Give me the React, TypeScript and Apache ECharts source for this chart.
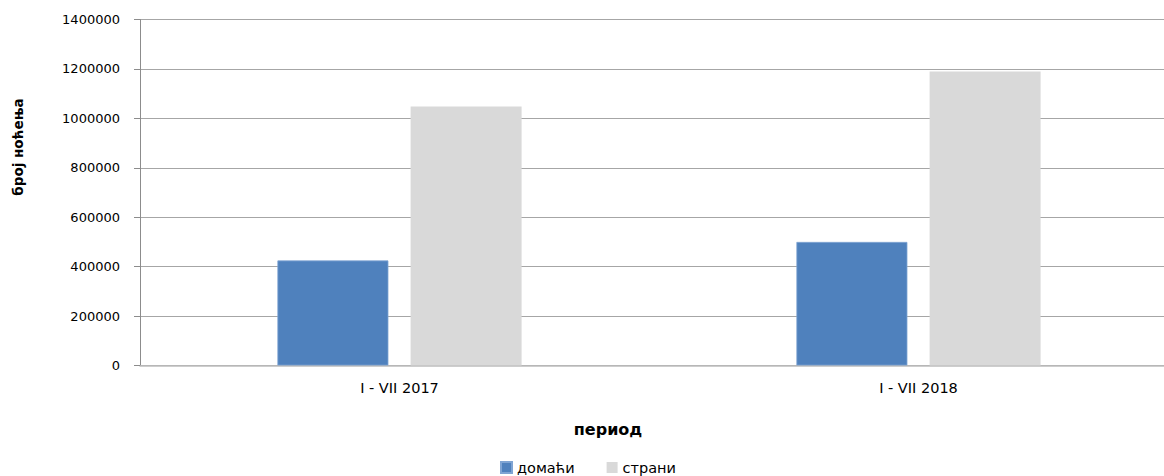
import React, { useEffect, useRef } from "react";
import * as echarts from "echarts";

const categories = ["I - VII 2017", "I - VII 2018"];
const domaci = [425000, 500000];
const strani = [1048000, 1190000];
const seriesNames = ["домаћи", "страни"];
const yTitle = "број ноћења";
const xTitle = "период";

export default function App() {
  const ref = useRef<HTMLDivElement>(null);
  useEffect(() => {
    if (!ref.current) return;
    const chart = echarts.init(ref.current, undefined, { renderer: "svg" });
    const font = "'DejaVu Sans', sans-serif";
    chart.setOption({
      animation: false,
      backgroundColor: "#ffffff",
      grid: { left: 140, right: 0, top: 19.5, bottom: 110.5, containLabel: false },
      legend: {
        left: 500,
        top: 460,
        padding: 0,
        icon: "rect",
        itemWidth: 11,
        itemHeight: 11,
        itemGap: 32,
        textStyle: { fontFamily: font, fontSize: 14.5, color: "#000" },
        data: seriesNames,
      },
      xAxis: {
        type: "category",
        data: categories,
        axisLine: { show: true, lineStyle: { color: "#bdbdbd", width: 1.5 } },
        axisTick: { show: false },
        axisLabel: { margin: 15, fontFamily: font, fontSize: 14.5, color: "#000" },
      },
      yAxis: {
        type: "value",
        min: 0,
        max: 1400000,
        interval: 200000,
        axisLine: { show: true, lineStyle: { color: "#8c8c8c", width: 1 } },
        axisTick: { show: true, length: 6, lineStyle: { color: "#8c8c8c" } },
        splitLine: { show: true, lineStyle: { color: "#a6a6a6", width: 1 } },
        axisLabel: {
          margin: 20,
          fontFamily: font,
          fontSize: 13,
          color: "#000",
          formatter: (v: number) => String(v),
        },
      },
      graphic: [
        {
          type: "text",
          x: 18,
          y: 147,
          rotation: Math.PI / 2,
          style: {
            text: yTitle,
            fontFamily: font,
            fontSize: 13.5,
            fontWeight: "bold",
            fill: "#000",
            align: "center",
            verticalAlign: "middle",
          },
        },
        {
          type: "text",
          x: 608,
          y: 429,
          style: {
            text: xTitle,
            fontFamily: font,
            fontSize: 16,
            fontWeight: "bold",
            fill: "#000",
            align: "center",
            verticalAlign: "middle",
          },
        },
      ],
      series: [
        {
          name: seriesNames[0],
          type: "bar",
          data: domaci,
          barWidth: 111,
          barGap: "20%",
          itemStyle: { color: "#4f81bd", borderColor: "#7fa4d3", borderWidth: 0.8 },
        },
        {
          name: seriesNames[1],
          type: "bar",
          data: strani,
          barWidth: 111,
          barGap: "20%",
          itemStyle: { color: "#d9d9d9" },
        },
      ],
    });
    return () => chart.dispose();
  }, []);
  return (
    <div style={{ position: "absolute", left: 0, top: 0, width: 1164, height: 476, overflow: "hidden" }}>
      <div ref={ref} style={{ width: 1178, height: 476 }} />
    </div>
  );
}
